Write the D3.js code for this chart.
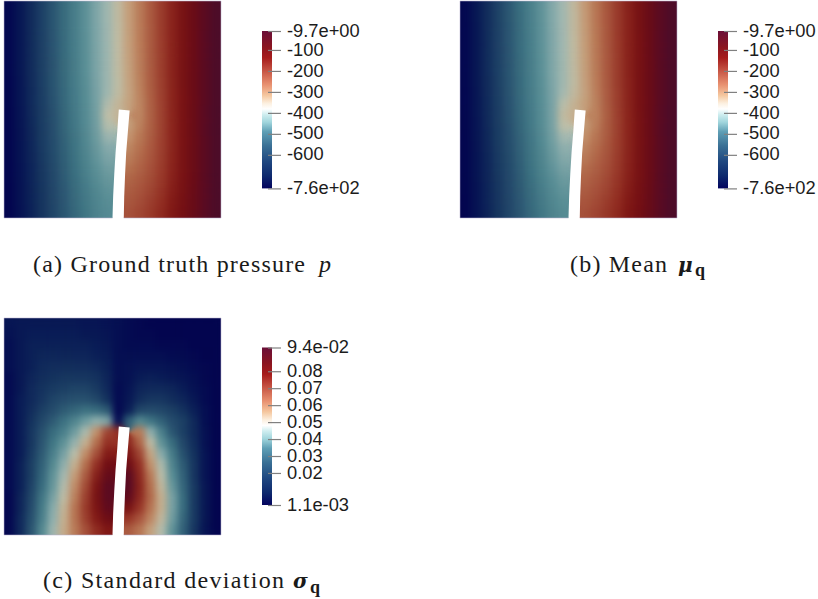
<!DOCTYPE html>
<html><head><meta charset="utf-8">
<script src="https://cdn.jsdelivr.net/npm/d3@7"></script>
<style>html,body{margin:0;padding:0;background:#fff}svg{display:block}</style>
</head><body><svg id="c" width="818" height="599"></svg>
<script>
const n = null;
const pressureTruth = [
[-746,-708,-668,-628,-592,-560,-530,-498,-463,-428,-385,-335,-285,-235,-190,-145,-107,-75,-45,-20],
[-746,-708,-668,-628,-592,-560,-530,-498,-463,-428,-385,-335,-285,-235,-190,-145,-107,-75,-45,-20],
[-746,-708,-668,-628,-592,-560,-530,-498,-464,-429,-386,-336,-286,-236,-190,-145,-107,-75,-45,-20],
[-746,-708,-668,-629,-593,-561,-531,-499,-464,-429,-386,-337,-286,-236,-191,-145,-107,-75,-45,-20],
[-746,-708,-668,-629,-593,-561,-531,-499,-465,-430,-387,-338,-287,-237,-191,-146,-107,-75,-45,-20],
[-746,-708,-668,-630,-594,-562,-532,-500,-465,-430,-387,-339,-288,-237,-192,-146,-107,-75,-45,-20],
[-746,-708,-668,-630,-594,-562,-532,-500,-465,-430,-388,-340,-288,-238,-192,-146,-107,-75,-45,-20],
[-747,-709,-669,-631,-595,-563,-533,-502,-468,-430,-390,-342,-292,-240,-194,-147,-107,-75,-45,-20],
[-748,-710,-670,-632,-596,-564,-534,-504,-470,-428,-388,-345,-295,-242,-195,-148,-108,-75,-45,-20],
[-748,-711,-671,-634,-598,-566,-536,-506,-472,-410,-375,-340,-298,-245,-197,-149,-108,-76,-46,-20],
[-749,-712,-672,-635,-600,-568,-538,-508,-474,-395,-372,n,-300,-246,-198,-150,-109,-76,-46,-20],
[-749,-713,-674,-637,-602,-570,-541,-510,-476,-405,n,-335,-292,-244,-198,-150,-109,-76,-46,-20],
[-750,-714,-676,-639,-605,-573,-544,-513,-480,-432,n,-318,-280,-240,-197,-150,-109,-76,-46,-20],
[-750,-715,-678,-641,-608,-576,-547,-517,-486,-455,n,-300,-270,-234,-195,-149,-109,-76,-46,-20],
[-750,-716,-680,-643,-611,-579,-550,-521,-492,-466,n,-285,-258,-228,-192,-148,-109,-76,-46,-20],
[-751,-717,-681,-645,-613,-582,-553,-526,-499,-478,n,-268,-247,-220,-188,-146,-108,-76,-46,-20],
[-751,-717,-682,-647,-615,-585,-557,-531,-507,-488,n,-252,-235,-212,-183,-142,-106,-75,-46,-20],
[-752,-718,-683,-649,-617,-588,-560,-536,-514,-496,n,-240,-225,-203,-176,-136,-104,-74,-45,-20],
[-752,-718,-684,-650,-619,-590,-563,-540,-519,-503,n,-230,-215,-193,-167,-130,-100,-72,-45,-20],
[-752,-719,-685,-651,-620,-592,-566,-543,-522,-508,n,-222,-205,-185,-160,-125,-96,-70,-44,-20]];
const pressureMean = [
[-745,-706,-664,-624,-588,-556,-526,-494,-458,-422,-380,-328,-278,-230,-186,-142,-104,-72,-43,-20],
[-745,-706,-665,-625,-589,-557,-527,-495,-459,-423,-381,-329,-279,-231,-187,-143,-104,-72,-43,-20],
[-746,-707,-665,-626,-590,-558,-528,-496,-460,-424,-382,-331,-280,-232,-187,-143,-104,-72,-43,-20],
[-746,-707,-666,-626,-590,-558,-529,-496,-461,-425,-383,-332,-281,-232,-188,-143,-105,-72,-43,-20],
[-746,-707,-666,-627,-591,-559,-529,-497,-461,-425,-384,-334,-282,-233,-188,-144,-105,-72,-43,-20],
[-746,-707,-666,-628,-591,-560,-530,-498,-462,-426,-384,-335,-283,-234,-189,-144,-105,-73,-43,-20],
[-746,-707,-667,-628,-592,-560,-530,-498,-462,-426,-385,-336,-284,-234,-189,-144,-105,-73,-43,-20],
[-746,-708,-668,-629,-593,-561,-531,-500,-464,-426,-386,-338,-287,-236,-190,-145,-106,-73,-44,-20],
[-747,-709,-669,-630,-594,-562,-532,-501,-466,-420,-382,-340,-290,-238,-192,-146,-106,-73,-44,-20],
[-747,-710,-670,-632,-596,-564,-534,-503,-468,-400,-368,-335,-292,-240,-193,-147,-106,-74,-44,-20],
[-748,-711,-671,-633,-598,-566,-536,-505,-468,-385,-362,n,-294,-242,-194,-148,-107,-74,-44,-20],
[-748,-712,-672,-635,-600,-568,-538,-507,-470,-395,n,-328,-288,-240,-195,-148,-107,-74,-44,-20],
[-749,-713,-674,-637,-603,-571,-541,-510,-474,-422,n,-312,-276,-236,-194,-148,-107,-74,-44,-20],
[-749,-714,-676,-639,-606,-574,-544,-514,-480,-446,n,-296,-266,-230,-192,-147,-107,-74,-44,-20],
[-750,-715,-678,-641,-609,-577,-547,-518,-487,-458,n,-282,-254,-224,-188,-146,-107,-74,-44,-20],
[-750,-716,-679,-643,-611,-580,-550,-523,-494,-470,n,-264,-243,-216,-184,-143,-106,-74,-44,-20],
[-751,-716,-680,-645,-613,-583,-554,-528,-503,-482,n,-250,-232,-208,-179,-139,-104,-73,-44,-20],
[-751,-717,-681,-647,-615,-586,-558,-533,-510,-492,n,-238,-222,-200,-172,-133,-102,-72,-43,-20],
[-752,-717,-682,-648,-617,-588,-561,-537,-516,-500,n,-228,-212,-190,-164,-127,-98,-70,-43,-20],
[-752,-718,-683,-649,-618,-590,-564,-541,-520,-506,n,-220,-202,-182,-157,-122,-94,-68,-42,-20]];
const sigmaThousandths = [
[7,8,8,8,8,8,8,7,7,6,5,4,3,2,2,2,2,2,2,2],
[6,8,9,9,9,9,9,8,8,7,5,4,3,3,2,2,2,2,2,2],
[5,8,10,10,10,10,10,10,9,8,5,4,4,4,3,3,3,2,2,2],
[5,8,10,11,11,11,11,11,10,9,5,5,5,5,5,4,4,3,2,2],
[5,8,10,12,13,13,13,13,12,10,5,6,7,7,7,6,5,4,3,2],
[4,8,11,13,14,15,15,15,14,11,5,6,9,10,9,8,7,5,3,2],
[4,8,12,14,16,17,18,18,16,12,4,7,11,12,12,11,9,6,4,2],
[4,9,12,15,18,20,21,21,19,14,4,8,13,15,15,13,11,8,4,2],
[4,9,13,17,20,23,25,27,26,23,3,10,19,20,19,17,14,10,5,2],
[4,9,14,19,23,27,31,36,40,38,4,24,32,28,24,20,17,12,5,2],
[4,9,15,21,26,30,36,44,56,70,74,n,60,40,30,22,17,12,6,2],
[4,9,15,22,28,34,41,50,62,74,n,76,64,47,34,26,19,13,6,2],
[4,9,16,23,30,37,46,57,68,79,n,80,70,52,39,29,21,14,7,2],
[4,10,17,24,32,40,50,62,74,84,n,85,74,56,44,31,23,15,7,2],
[4,10,17,25,34,43,54,66,78,87,n,89,76,60,46,33,24,15,7,2],
[4,10,18,26,35,45,57,69,81,89,n,90,77,62,48,35,25,16,8,2],
[3,11,19,28,37,47,59,71,82,89,n,88,76,63,50,37,26,16,8,2],
[3,11,20,29,39,49,61,72,81,88,n,82,73,61,50,37,26,16,8,2],
[3,12,21,30,40,50,61,71,79,85,n,73,67,58,48,36,25,16,8,2],
[3,12,22,32,42,51,60,68,75,80,n,66,61,53,45,34,24,15,7,2]];

const crackY     = [0.5,0.6,0.7,0.8,0.9,1];
const crackLeft  = [0.529,0.522,0.514,0.508,0.503,0.5];
const crackRight = [0.579,0.571,0.563,0.558,0.554,0.552];

const surfaceT = [0,.08,.147,.213,.28,.347,.413,.453,.487,.533,.587,.653,.72,.787,.853,.9,.947,1];
const surfaceColors = ["#02024e","#081a55","#16355f","#274f6e","#3c7281","#5a8f96","#8badad","#a5b9b0","#bdbfa9","#c5ad8c","#c3946f","#b5714f","#a5503a","#932f23","#7e1614","#6f0d14","#5c0b20","#480d2b"];
const legendT = [0,.08,.17,.27,.36,.42,.47,.505,.54,.59,.66,.74,.83,.90,1];
const legendColors = ["#03045e","#0e2a6e","#1f4780","#3a7095","#5f9fb5","#a0d5dc","#d0eef0","#ffffff","#fcf0e0","#f5c8a0","#e89070","#c95a48","#a61c1c","#8a1520","#6a0f38"];

const pressureTicks = [-9.7,-100,-200,-300,-400,-500,-600,-760];
const pressureLabels = ["-9.7e+00","-100","-200","-300","-400","-500","-600","-7.6e+02"];
const sigmaTicks = [94,80,70,60,50,40,30,20,1.1];
const sigmaLabels = ["9.4e-02","0.08","0.07","0.06","0.05","0.04","0.03","0.02","1.1e-03"];

const captionTexts = ["(a) Ground truth pressure ","(b) Mean ","(c) Standard deviation "];
const mathSymbols = ["p","μ","σ"];

const svg = d3.select("#c"), defs = svg.append("defs");
const SIZE = 217;

const blur = defs.append("filter").attr("id","soft")
  .attr("filterUnits","userSpaceOnUse").attr("x",-40).attr("y",-40).attr("width",SIZE+80).attr("height",SIZE+80)
  .attr("color-interpolation-filters","sRGB");
blur.append("feGaussianBlur").attr("stdDeviation",3.8);
blur.append("feComponentTransfer").append("feFuncA").attr("type","linear").attr("slope",1000);

const gradient = defs.append("linearGradient").attr("id","legendGrad").attr("x1",0).attr("x2",0).attr("y1",1).attr("y2",0);
legendT.forEach((t,i)=>gradient.append("stop").attr("offset",t).attr("stop-color",legendColors[i]));

const frac = d3.scaleLinear().domain(crackY);
const crackL = y => frac.range(crackLeft)(y), crackR = y => frac.range(crackRight)(y);

function panel(id, x0, y0, grid, lo, hi) {
  const x = d3.scaleLinear().domain([0,1]).range([0,SIZE]);
  const y = d3.scaleLinear().domain([0,1]).range([0,SIZE]);
  const col = d3.scaleBand().domain(d3.range(grid[0].length)).range([0,SIZE]);
  const row = d3.scaleBand().domain(d3.range(grid.length)).range([0,SIZE]);
  const tScale = d3.scaleLinear().domain([lo,hi]).range([0,1]).clamp(true);
  const colour = d3.scaleLinear().domain(surfaceT).range(surfaceColors);
  const cells = [];
  grid.forEach((r,j)=>r.forEach((v,i)=>{ if(v!==null) cells.push({i,j,v}); }));
  const g = svg.append("g").attr("transform",`translate(${x0},${y0})`);
  const cp = defs.append("clipPath").attr("id","clip"+id);
  cp.append("rect").attr("width",SIZE).attr("height",SIZE);
  const line = d3.line().x(d=>x(d[0])).y(d=>y(d[1]));
  const leftEdge = crackY.map((v,k)=>[crackLeft[k],v]);
  const rightEdge = crackY.map((v,k)=>[crackRight[k],v]);
  const leftPoly = [[0,crackY[0]],...leftEdge,[0,1]];
  const rightPoly = [[1,crackY[0]],...rightEdge,[1,1]];
  defs.append("clipPath").attr("id","L"+id).append("path").attr("d",line(leftPoly)+"Z");
  defs.append("clipPath").attr("id","R"+id).append("path").attr("d",line(rightPoly)+"Z");
  const body = g.append("g").attr("clip-path",`url(#clip${id})`);
  function layer(filterFn, clip) {
    const outer = body.append("g");
    if (clip) outer.attr("clip-path",`url(#${clip}${id})`);
    outer.append("g").attr("filter","url(#soft)").selectAll("rect").data(cells.filter(filterFn)).join("rect")
      .attr("x",d=>col(d.i)).attr("y",d=>row(d.j))
      .attr("width",col.bandwidth()+.3).attr("height",row.bandwidth()+.3)
      .attr("fill",d=>colour(tScale(d.v)));
  }
  const cx = d => (col(d.i)+col.bandwidth()/2)/SIZE, cy = d => (row(d.j)+row.bandwidth()/2)/SIZE;
  const mid = d => (crackL(Math.max(cy(d),.5))+crackR(Math.max(cy(d),.5)))/2;
  layer(()=>true, null);
  layer(d=>cy(d)<.5 || cx(d)<mid(d), "L");
  layer(d=>cy(d)<.5 || cx(d)>mid(d), "R");
  const poly = [[crackLeft[0],.5],[crackRight[0],.505],...rightEdge.slice(1),...leftEdge.slice(1).reverse()];
  body.append("path").attr("d",line(poly)+"Z").attr("fill","#fff");
  g.append("path").attr("d",`M${x(crackLeft[5])},${SIZE}H0V0H${SIZE}V${SIZE}H${x(crackRight[5])}`)
    .attr("fill","none").attr("stroke","#b9b4cf").attr("stroke-opacity",.55).attr("stroke-width",1);
}
function legend(x0, yTop, yBot, dom, ticks, labels) {
  const y = d3.scaleLinear().domain(dom).range([yTop,yBot]);
  svg.append("rect").attr("x",x0).attr("y",yTop).attr("width",10).attr("height",yBot-yTop).attr("fill","url(#legendGrad)");
  const axis = d3.axisRight(y).tickValues(ticks).tickSize(13).tickPadding(6).tickFormat((d,i)=>labels[i]);
  const g = svg.append("g").attr("transform",`translate(${x0+6},0)`).call(axis);
  g.select(".domain").remove();
  g.selectAll("line").attr("stroke","#808080").attr("stroke-width",1.2);
  g.selectAll("text").attr("font-family","Liberation Sans").attr("font-size",18.3).attr("fill","#1c1c1c").attr("dy","0.28em");
}
panel("a",4,1,pressureTruth,-760,-9.7);
panel("b",460,1,pressureMean,-760,-9.7);
panel("c",4,318,sigmaThousandths,1.1,94);
legend(262,31,188.4,[-9.7,-760],pressureTicks,pressureLabels);
legend(718,31,188.4,[-9.7,-760],pressureTicks,pressureLabels);
legend(262,347.5,505,[94,1.1],sigmaTicks,sigmaLabels);

function text(x,y,str,len,opts={}) {
  const t = svg.append("text").attr("x",x).attr("y",y).text(str)
    .attr("font-family",opts.family||"Liberation Serif").attr("font-size",opts.size||24)
    .attr("fill","#1a1a1a");
  if(len) t.attr("textLength",len);
  if(opts.italic) t.attr("font-style","italic");
  if(opts.bold) t.attr("font-weight","bold");
}
text(33,271.5,captionTexts[0].trim(),272);
text(319,271.5,mathSymbols[0],15,{italic:true});
text(570,271.5,captionTexts[1].trim(),97);
text(678,271.5,mathSymbols[1],17,{italic:true,bold:true,family:"DejaVu Serif",size:20});
text(695,275.5,"q",12,{bold:true,size:18});
text(43,588,captionTexts[2].trim(),241);
text(293,588,mathSymbols[2],17,{italic:true,bold:true,family:"DejaVu Serif",size:20});
text(310,592.5,"q",13,{bold:true,size:18});
</script></body></html>
